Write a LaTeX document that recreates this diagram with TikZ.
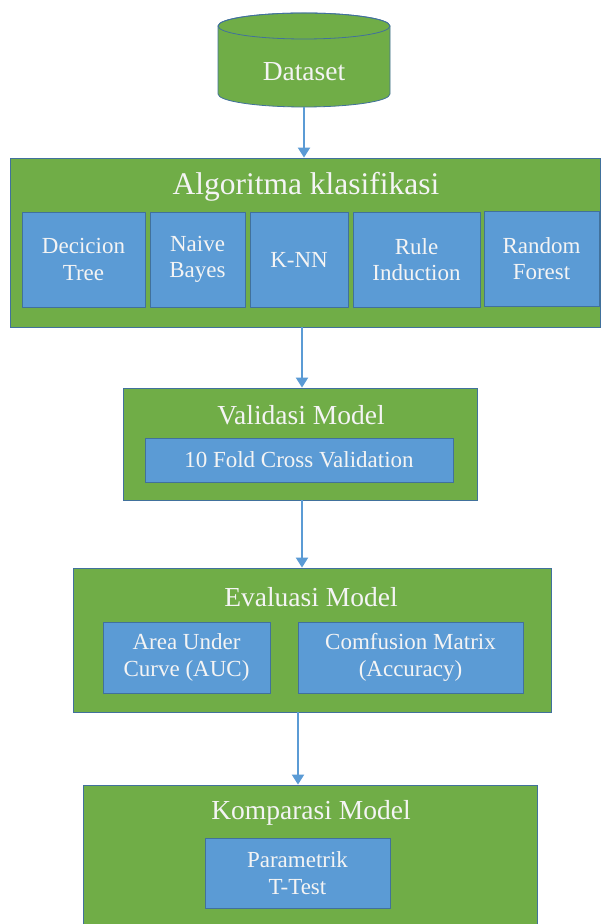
\documentclass[tikz,border=0pt]{standalone}
\usepackage{fontspec}
\setmainfont{Liberation Serif}
\usetikzlibrary{arrows.meta}
\definecolor{grn}{HTML}{70AD47}
\definecolor{blu}{HTML}{5B9BD5}
\definecolor{edge}{HTML}{41719C}
\definecolor{txt}{HTML}{F4F4F4}
\tikzset{
  outerbox/.style={draw=edge, line width=0.8pt, fill=grn, inner sep=0pt},
  innerbox/.style={draw=edge, line width=0.8pt, fill=blu, inner sep=0pt, text=txt, align=center,
     font=\fontsize{23}{26.5}\selectfont},
  title/.style={text=txt, inner sep=0pt, font=\fontsize{27.5}{32}\selectfont},
  conn/.style={draw=blu, line width=2pt, -{Triangle[width=12pt,length=10pt]}}
}
\begin{document}
\begin{tikzpicture}[x=1pt,y=1pt]
\useasboundingbox (0,0) rectangle (601,924);
\clip (0,0) rectangle (601,924);
\fill[white] (0,0) rectangle (601,924);
% Dataset cylinder
\node[minimum width=172pt, minimum height=94pt, inner sep=0pt] (ds) at (304,864) {};
\filldraw[fill=grn, draw=edge, line width=0.8pt] (218,898) -- (218,830)
  arc[start angle=180, end angle=360, x radius=86pt, y radius=13pt] -- (390,898)
  arc[start angle=0, end angle=180, x radius=86pt, y radius=13pt] -- cycle;
\draw[draw=edge, line width=0.8pt] (304,898) ellipse[x radius=86pt, y radius=13pt];
\node[title] (dst) at (304,852) {Dataset};
% Algoritma
\node[outerbox, minimum width=590pt, minimum height=169pt] (algo) at (305,681.5) {};
\node[title, font=\fontsize{31.5}{36}\selectfont] (algot) at (306,737) {Algoritma klasifikasi};
\node[innerbox, minimum width=123pt, minimum height=95pt] (b1) at (83.5,664.5) {Decicion\\Tree};
\node[innerbox, minimum width=95pt, minimum height=95pt] (b2) at (197.5,664.5) {Naive\\Bayes};
\node[innerbox, minimum width=98pt, minimum height=95pt] (b3) at (299,664.5) {K-NN};
\node[innerbox, minimum width=127pt, minimum height=95pt] (b4) at (416.5,664.5) {Rule\\Induction};
\node[innerbox, minimum width=115pt, minimum height=95pt] (b5) at (541.5,665.5) {Random\\Forest};
% Validasi
\node[outerbox, minimum width=354pt, minimum height=112pt] (val) at (300,480) {};
\node[title] (valt) at (301,509) {Validasi Model};
\node[innerbox, minimum width=308pt, minimum height=44pt] (v1) at (299,464) {10 Fold Cross Validation};
% Evaluasi
\node[outerbox, minimum width=478pt, minimum height=144pt] (eva) at (312,284) {};
\node[title] (evat) at (311,327) {Evaluasi Model};
\node[innerbox, minimum width=167pt, minimum height=71pt] (e1) at (186.5,266.5) {Area Under\\Curve (AUC)};
\node[innerbox, minimum width=225pt, minimum height=71pt] (e2) at (410.5,266.5) {Comfusion Matrix\\(Accuracy)};
% Komparasi
\node[outerbox, minimum width=454pt, minimum height=150pt] (kom) at (310,64) {};
\node[title] (komt) at (311,111) {Komparasi Model};
\node[innerbox, minimum width=185pt, minimum height=70pt] (k1) at (297.5,51) {Parametrik\\T-Test};
% connectors
\draw[conn] (ds.south) -- (ds.south |- algo.north);
\draw[conn] ([xshift=-3pt]algo.south) -- ([xshift=-3pt]algo.south |- val.north);
\draw[conn] ([xshift=2pt]val.south) -- ([xshift=2pt]val.south |- eva.north);
\draw[conn] ([xshift=-14pt]eva.south) -- ([xshift=-14pt]eva.south |- kom.north);
\end{tikzpicture}
\end{document}
